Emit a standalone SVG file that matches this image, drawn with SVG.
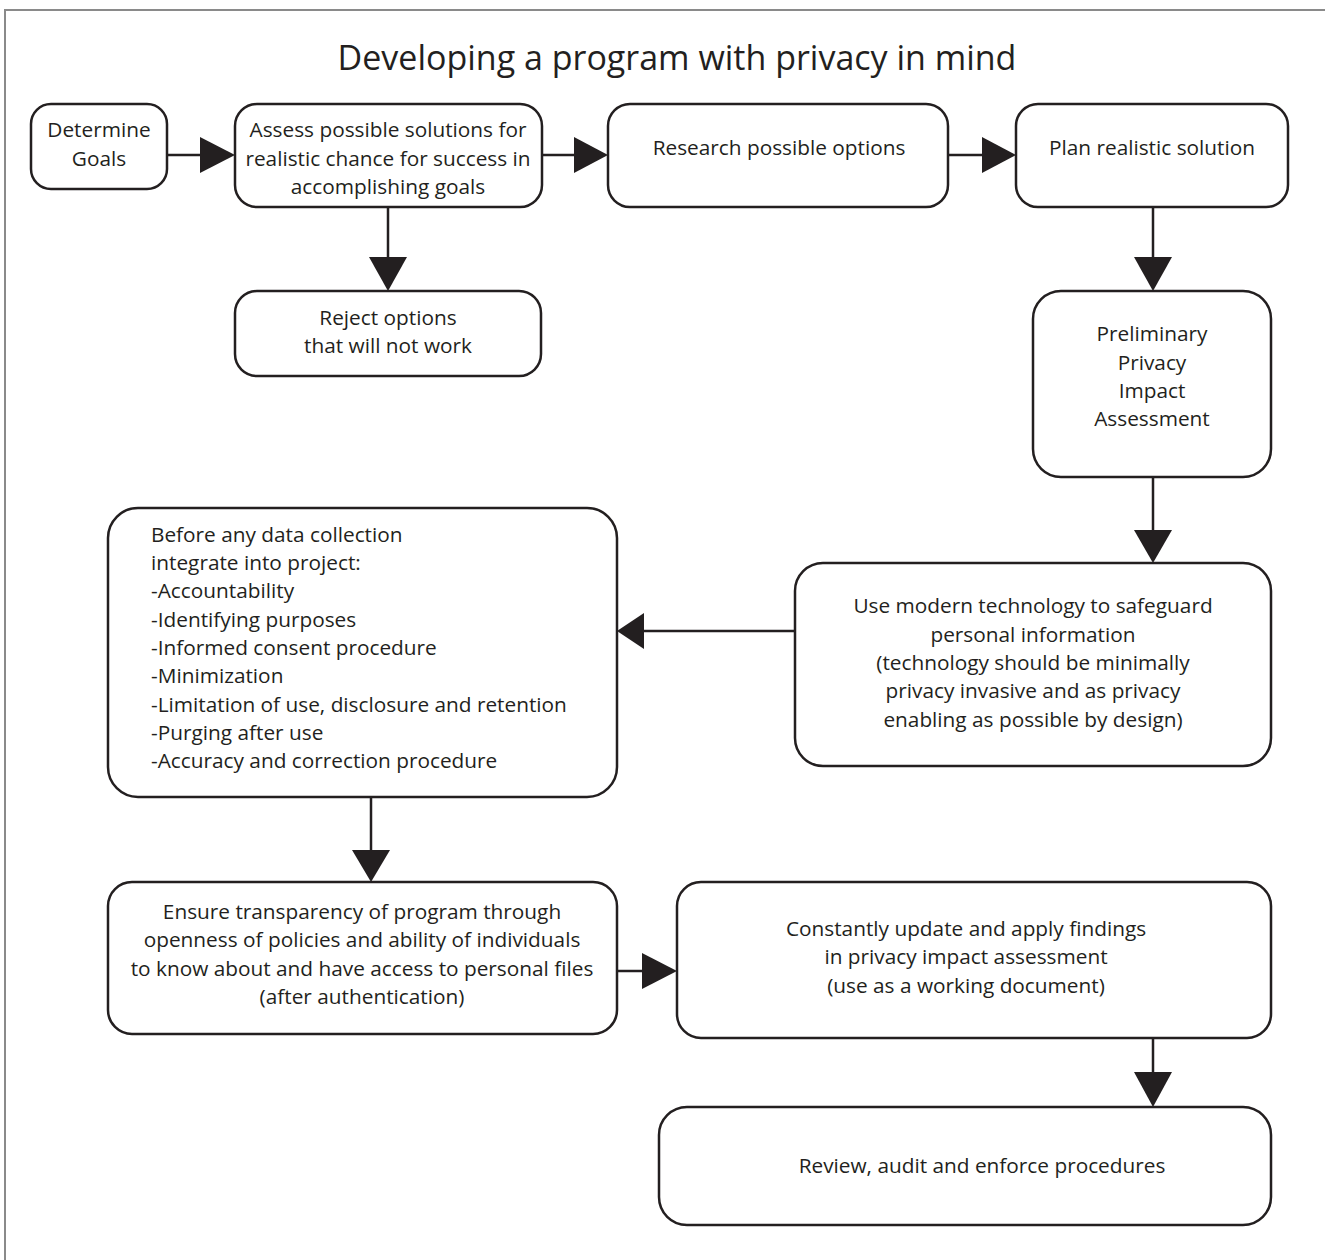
<svg xmlns="http://www.w3.org/2000/svg" width="1325" height="1260" viewBox="0 0 1325 1260">
<style>
.box{fill:#fff;stroke:#231f20;stroke-width:2.5}
.t{font-family:"Open Sans","Noto Sans",sans-serif;font-size:20.8px;fill:#231f20;text-anchor:middle}
.l{text-anchor:start}
.ln{stroke:#231f20;stroke-width:2.5;fill:none}
.ah{fill:#231f20}
</style>
<rect x="0" y="0" width="1325" height="1260" fill="#fff"/>
<rect x="5" y="10" width="1340" height="1270" fill="none" stroke="#8a8a8a" stroke-width="2"/>
<text x="677" y="70" style="font-family:'Open Sans','Noto Sans',sans-serif;font-size:34px;fill:#231f20;text-anchor:middle">Developing a program with privacy in mind</text>
<g id="n1"><rect class="box" x="31" y="104" width="136" height="85" rx="20"/><text class="t" x="99" y="137">Determine</text><text class="t" x="99" y="166">Goals</text></g>
<g id="n2"><rect class="box" x="235" y="104" width="307" height="103" rx="22"/><text class="t" x="388" y="137">Assess possible solutions for</text><text class="t" x="388" y="166">realistic chance for success in</text><text class="t" x="388" y="194">accomplishing goals</text></g>
<g id="n3"><rect class="box" x="608" y="104" width="340" height="103" rx="22"/><text class="t" x="779" y="155">Research possible options</text></g>
<g id="n4"><rect class="box" x="1016" y="104" width="272" height="103" rx="22"/><text class="t" x="1152" y="155">Plan realistic solution</text></g>
<g id="n5"><rect class="box" x="235" y="291" width="306" height="85" rx="22"/><text class="t" x="388" y="325">Reject options</text><text class="t" x="388" y="353">that will not work</text></g>
<g id="n6"><rect class="box" x="1033" y="291" width="238" height="186" rx="28"/><text class="t" x="1152" y="341">Preliminary</text><text class="t" x="1152" y="370">Privacy</text><text class="t" x="1152" y="398">Impact</text><text class="t" x="1152" y="426">Assessment</text></g>
<g id="n7"><rect class="box" x="108" y="508" width="509" height="289" rx="30"/>
<text class="t l" x="151" y="542">Before any data collection</text>
<text class="t l" x="151" y="570">integrate into project:</text>
<text class="t l" x="151" y="598">-Accountability</text>
<text class="t l" x="151" y="627">-Identifying purposes</text>
<text class="t l" x="151" y="655">-Informed consent procedure</text>
<text class="t l" x="151" y="683">-Minimization</text>
<text class="t l" x="151" y="712">-Limitation of use, disclosure and retention</text>
<text class="t l" x="151" y="740">-Purging after use</text>
<text class="t l" x="151" y="768">-Accuracy and correction procedure</text></g>
<g id="n8"><rect class="box" x="795" y="563" width="476" height="203" rx="28"/>
<text class="t" x="1033" y="613">Use modern technology to safeguard</text>
<text class="t" x="1033" y="642">personal information</text>
<text class="t" x="1033" y="670">(technology should be minimally</text>
<text class="t" x="1033" y="698">privacy invasive and as privacy</text>
<text class="t" x="1033" y="727">enabling as possible by design)</text></g>
<g id="n9"><rect class="box" x="108" y="882" width="509" height="152" rx="24"/>
<text class="t" x="362" y="919">Ensure transparency of program through</text>
<text class="t" x="362" y="947">openness of policies and ability of individuals</text>
<text class="t" x="362" y="976">to know about and have access to personal files</text>
<text class="t" x="362" y="1004">(after authentication)</text></g>
<g id="n10"><rect class="box" x="677" y="882" width="594" height="156" rx="24"/>
<text class="t" x="966" y="936">Constantly update and apply findings</text>
<text class="t" x="966" y="964">in privacy impact assessment</text>
<text class="t" x="966" y="993">(use as a working document)</text></g>
<g id="n11"><rect class="box" x="659" y="1107" width="612" height="118" rx="28"/><text class="t" x="982" y="1173">Review, audit and enforce procedures</text></g>
<g id="connectors">
<line class="ln" x1="167" y1="155" x2="202" y2="155"/><polygon class="ah" points="200,137 235,155 200,173"/>
<line class="ln" x1="542" y1="155" x2="576" y2="155"/><polygon class="ah" points="574,137 608,155 574,173"/>
<line class="ln" x1="948" y1="155" x2="984" y2="155"/><polygon class="ah" points="982,137 1016,155 982,173"/>
<line class="ln" x1="388" y1="207" x2="388" y2="259"/><polygon class="ah" points="369,257 407,257 388,291"/>
<line class="ln" x1="1153" y1="207" x2="1153" y2="259"/><polygon class="ah" points="1134,257 1172,257 1153,291"/>
<line class="ln" x1="1153" y1="477" x2="1153" y2="532"/><polygon class="ah" points="1134,530 1172,530 1153,563"/>
<line class="ln" x1="795" y1="631" x2="642" y2="631"/><polygon class="ah" points="644,613 644,649 617,631"/>
<line class="ln" x1="371" y1="797" x2="371" y2="852"/><polygon class="ah" points="352,850 390,850 371,882"/>
<line class="ln" x1="617" y1="971" x2="644" y2="971"/><polygon class="ah" points="642,953 677,971 642,989"/>
<line class="ln" x1="1153" y1="1038" x2="1153" y2="1074"/><polygon class="ah" points="1134,1072 1172,1072 1153,1107"/>
</g>
</svg>
